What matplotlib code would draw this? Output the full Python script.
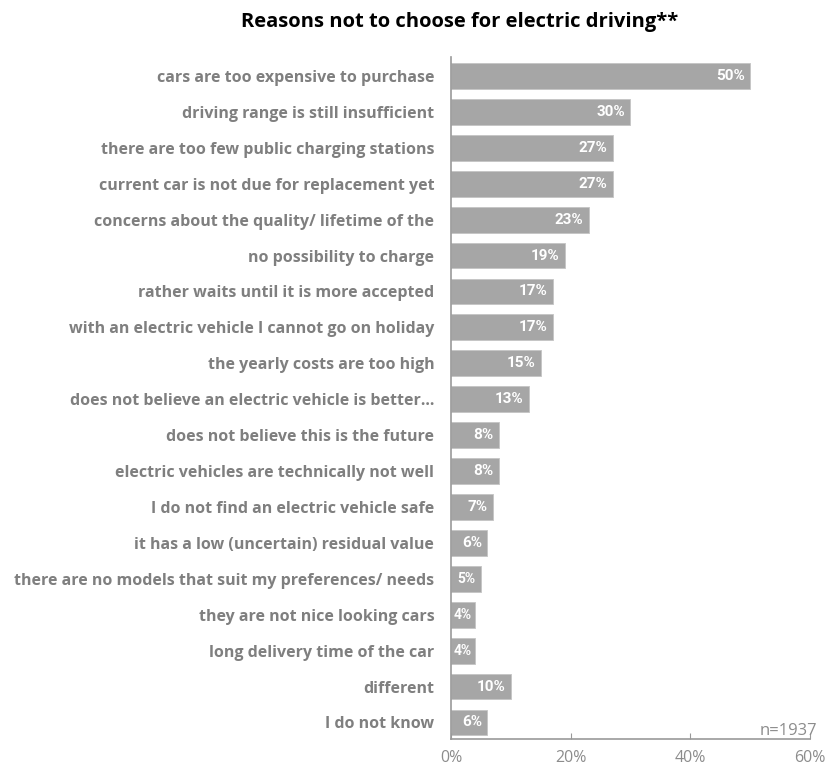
import matplotlib
matplotlib.use('Agg')
import matplotlib.pyplot as plt
from matplotlib.transforms import offset_copy

# survey answers, top to bottom
reasons = [
    'cars are too expensive to purchase',
    'driving range is still insufficient',
    'there are too few public charging stations',
    'current car is not due for replacement yet',
    'concerns about the quality/ lifetime of the',
    'no possibility to charge',
    'rather waits until it is more accepted',
    'with an electric vehicle I cannot go on holiday',
    'the yearly costs are too high',
    'does not believe an electric vehicle is better...',
    'does not believe this is the future',
    'electric vehicles are technically not well',
    'I do not find an electric vehicle safe',
    'it has a low (uncertain) residual value',
    'there are no models that suit my preferences/ needs',
    'they are not nice looking cars',
    'long delivery time of the car',
    'different',
    'I do not know',
]
pct = [50, 30, 27, 27, 23, 19, 17, 17, 15, 13, 8, 8, 7, 6, 5, 4, 4, 10, 6]
xticks = [0, 20, 40, 60]
n_resp = 1937

bar_col = '#a6a6a6'
lab_col = '#7f7f7f'

fig = plt.figure(figsize=(8.29, 7.69), dpi=100)
ax = fig.add_axes([0.544, 0.039, 0.433, 0.887])

y = list(range(len(reasons)))
ax.barh(y, pct, height=0.72, color=bar_col, edgecolor='#c4c4c4', linewidth=0.6)

# value labels inside the bar ends; short bars get them centred
for yi, v in zip(y, pct):
    if v >= 6:
        tr = offset_copy(ax.transData, fig=fig, x=-5, y=0, units='dots')
        ax.text(v, yi, f'{v}%', transform=tr, ha='right', va='center',
                color='white', fontsize=11, fontweight='bold', family='Roboto')
    else:
        ax.text(v / 2, yi, f'{v}%', ha='center', va='center',
                color='white', fontsize=10, fontweight='bold', family='Roboto')

ax.set_yticks(y)
ax.set_yticklabels(reasons, fontsize=11.5, fontweight='bold', color=lab_col, family='Open Sans')
ax.tick_params(axis='y', length=0, pad=12)

ax.set_xlim(0, 60)
ax.set_ylim(18.46, -0.53)
ax.set_xticks(xticks)
ax.set_xticklabels([f'{t}%' for t in xticks], fontsize=11.5, color='#8c8c8c', family='Open Sans')
ax.tick_params(axis='x', direction='in', length=4, color='#999999', pad=8)

for s in ['top', 'right']:
    ax.spines[s].set_visible(False)
for s in ['left', 'bottom']:
    ax.spines[s].set_color('#999999')
    ax.spines[s].set_linewidth(1.2)

ax.text(61.3, 18.46, f'n={n_resp}', ha='right', va='bottom', fontsize=12,
        color='#8c8c8c', family='Open Sans', clip_on=False)

fig.text(0.555, 0.972, 'Reasons not to choose for electric driving**', ha='center', va='center',
         fontsize=14.5, fontweight='bold', color='black', family='Open Sans')

fig.savefig('out.png', dpi=100)
